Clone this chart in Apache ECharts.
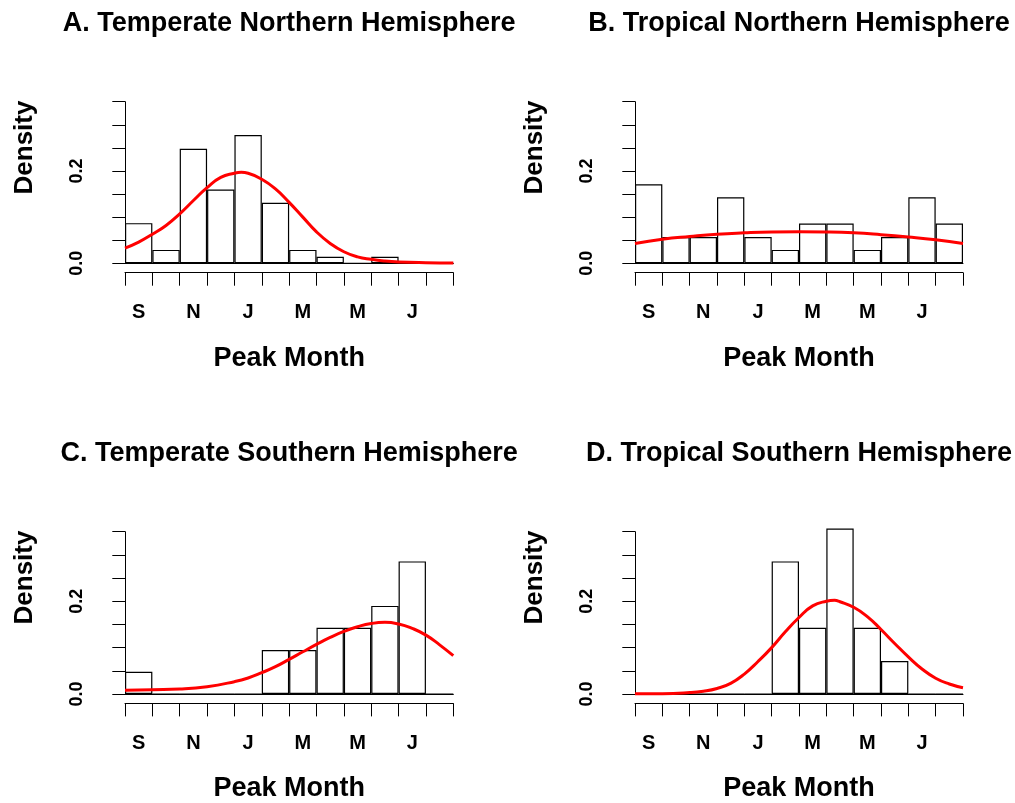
<!DOCTYPE html>
<html><head><meta charset="utf-8">
<script src="https://cdn.jsdelivr.net/npm/echarts@6/dist/echarts.min.js"></script>
<style>html,body{margin:0;padding:0;background:#fff}#c{width:1015px;height:803px}</style>
</head><body><div id="c"></div>
<script>
const months = ['S','O','N','D','J','F','M','A','M','J','J','A'];
const yLabelValues = [0, 0.2];
const panelTitles = ['A. Temperate Northern Hemisphere','B. Tropical Northern Hemisphere','C. Temperate Southern Hemisphere','D. Tropical Southern Hemisphere'];
const xName = 'Peak Month';
const yName = 'Density';

const densA = [0.087, 0.029, 0.248, 0.160, 0.278, 0.131, 0.029, 0.014, 0, 0.014, 0, 0];
const densB = [0.171, 0.057, 0.057, 0.143, 0.057, 0.029, 0.086, 0.086, 0.029, 0.057, 0.143, 0.086];
const densC = [0.048, 0, 0, 0, 0, 0.095, 0.095, 0.143, 0.143, 0.190, 0.286, 0];
const densD = [0, 0, 0, 0, 0, 0.286, 0.143, 0.357, 0.143, 0.071, 0, 0];

const curveA = [[0,0.033],[0.5,0.046],[1,0.063],[1.5,0.082],[2,0.107],[2.5,0.136],[3,0.164],[3.5,0.186],[4,0.195],[4.25,0.197],[4.5,0.195],[5,0.182],[5.5,0.161],[6,0.132],[6.5,0.100],[7,0.068],[7.5,0.043],[8,0.025],[8.5,0.014],[9,0.0086],[9.5,0.005],[10,0.003],[11,0.0014],[12,0.0007]];
const curveB = [[0,0.043],[1,0.052],[2,0.058],[3,0.063],[4,0.066],[5,0.068],[6,0.0686],[7,0.068],[8,0.066],[9,0.062],[10,0.057],[11,0.051],[12,0.043]];
const curveC = [[0,0.0079],[1,0.0093],[2,0.0108],[3,0.0158],[4,0.0266],[4.5,0.0345],[5,0.046],[5.5,0.059],[6,0.0747],[6.5,0.091],[7,0.107],[7.5,0.122],[8,0.135],[8.5,0.145],[9,0.152],[9.5,0.1545],[10,0.151],[10.5,0.1415],[11,0.127],[11.5,0.106],[12,0.0826]];
const curveD = [[0,0.0007],[1,0.0008],[2,0.003],[2.5,0.006],[3,0.012],[3.5,0.023],[4,0.043],[4.5,0.070],[5,0.100],[5.5,0.134],[6,0.165],[6.5,0.190],[7,0.200],[7.3,0.202],[7.5,0.199],[8,0.187],[8.5,0.167],[9,0.139],[9.5,0.109],[10,0.080],[10.5,0.054],[11,0.034],[11.5,0.0216],[12,0.0136]];

const dens = [densA, densB, densC, densD];
const curves = [curveA, curveB, curveC, curveD];
const FONT = '"Liberation Sans", Arial, Helvetica, sans-serif';

const gridPos = [
  {left:125, top:101.7, width:328.3, height:161.6},
  {left:635, top:101.7, width:328, height:161.6},
  {left:125, top:531.7, width:328.3, height:162.3},
  {left:635, top:531.7, width:328, height:162.3}
];
const titleY = [24, 24, 454, 454];
const yNamePos = [[25, 147.5], [535, 147.5], [25, 577.5], [535, 577.5]];

const grid = [], xAxis = [], yAxis = [], series = [], graphic = [];
gridPos.forEach((g, i) => {
  grid.push(Object.assign({containLabel:false, outerBoundsMode:'none'}, g));
  xAxis.push({
    type:'category', data: months, gridIndex:i, position:'bottom', offset:9.4, boundaryGap:true,
    axisLine:{show:true, onZero:false, lineStyle:{color:'#000', width:1}},
    axisTick:{show:true, interval:0, length:13, alignWithLabel:false, lineStyle:{color:'#000', width:1}},
    axisLabel:{interval:1, color:'#000', fontFamily:FONT, fontWeight:'bold', fontSize:20, margin:30},
    splitLine:{show:false},
    name:xName, nameLocation:'middle', nameGap:72,
    nameTextStyle:{color:'#000', fontFamily:FONT, fontWeight:'bold', fontSize:27}
  });
  xAxis.push({
    type:'value', gridIndex:i, min:0, max:12, position:'bottom', offset:0,
    axisLine:{show:true, onZero:false, lineStyle:{color:'#000', width:1}},
    axisTick:{show:false}, axisLabel:{show:false}, splitLine:{show:false}
  });
  yAxis.push({
    type:'value', gridIndex:i, min:0, max:0.35, interval:0.05, position:'left', offset:12.3,
    axisLine:{show:true, lineStyle:{color:'#000', width:1}},
    axisTick:{show:true, length:12.7, lineStyle:{color:'#000', width:1}},
    axisLabel:{rotate:90, color:'#000', fontFamily:FONT, fontWeight:'bold', fontSize:18, margin:27,
      formatter: v => yLabelValues.some(t => Math.abs(t - v) < 1e-9) ? v.toFixed(1) : ''},
    splitLine:{show:false}
  });
  series.push({
    type:'bar', xAxisIndex:2*i, yAxisIndex:i, data:dens[i], barCategoryGap:'0%', clip:false,
    itemStyle:{color:'#fff', borderColor:'#000', borderWidth:1.2}, silent:true, z:2
  });
  series.push({
    type:'line', xAxisIndex:2*i+1, yAxisIndex:i, data:curves[i], smooth:true, showSymbol:false,
    lineStyle:{color:'#ff0000', width:3}, silent:true, z:5, clip:false
  });
  graphic.push({
    type:'text', x: g.left + g.width/2, y: titleY[i],
    style:{text: panelTitles[i], fill:'#000', fontFamily:FONT, fontWeight:'bold', fontSize:27, align:'center', verticalAlign:'middle'}
  });
  graphic.push({
    type:'text', x: yNamePos[i][0], y: yNamePos[i][1], rotation: Math.PI/2,
    style:{text: yName, fill:'#000', fontFamily:FONT, fontWeight:'bold', fontSize:26, align:'center', verticalAlign:'middle'}
  });
});

const chart = echarts.init(document.getElementById('c'), null, {renderer:'canvas'});
chart.setOption({animation:false, backgroundColor:'#fff', grid, xAxis, yAxis, series, graphic});
</script>
</body></html>
